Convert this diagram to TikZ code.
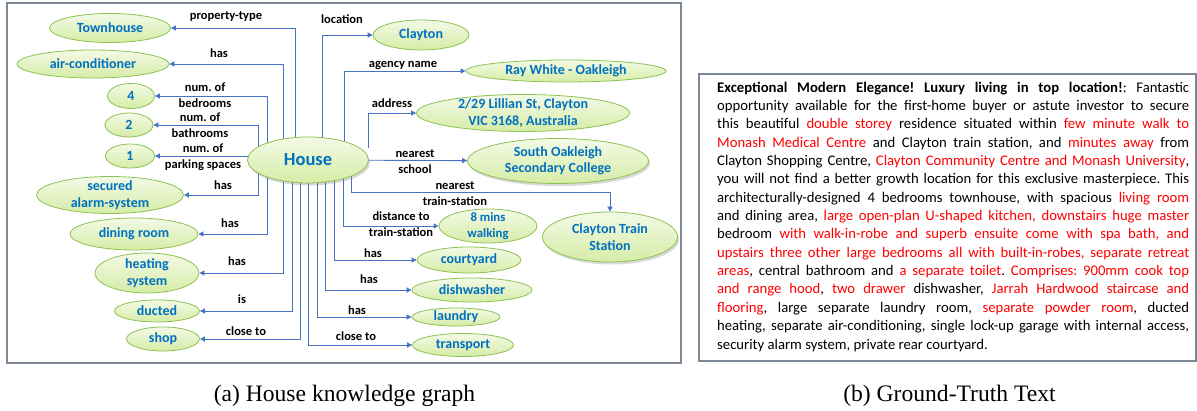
\documentclass[tikz,border=0pt]{standalone}
\usepackage{fontspec}
\setmainfont{Carlito}
\newfontfamily\capfont{Liberation Serif}
\usetikzlibrary{shapes.geometric,arrows.meta,shadows,backgrounds}

\definecolor{entblue}{RGB}{0,112,192}
\definecolor{linkblue}{RGB}{68,114,196}
\definecolor{entline}{RGB}{140,194,82}
\definecolor{enttop}{RGB}{243,250,230}
\definecolor{entbot}{RGB}{214,236,166}
\definecolor{redtxt}{RGB}{255,0,0}
\definecolor{framegray}{RGB}{125,135,150}

\tikzset{
  ent/.style={ellipse, draw=entline, line width=0.8pt, top color=enttop, bottom color=entbot,
    inner xsep=0pt, inner ysep=-4pt, align=center, text=entblue,
    font=\fontsize{14}{16.5}\selectfont\bfseries},
  bigent/.style={ent, drop shadow={shadow xshift=1.5pt, shadow yshift=-2.5pt, opacity=0.3}},
  wh/.style 2 args={minimum width=#1pt, minimum height=#2pt},
  rel/.style={inner sep=0pt, align=center, font=\fontsize{12.5}{16}\selectfont\bfseries},
  link/.style={draw=linkblue, line width=0.9pt, -{Triangle[length=5pt,width=5pt]}},
  box/.style={draw=framegray, line width=1.1pt}
}
\newcommand{\rd}[1]{\textcolor{redtxt}{#1}}

\begin{document}
\frenchspacing
\begin{tikzpicture}[x=1pt, y=-1pt]
    \useasboundingbox (0,0) rectangle (1197,411);

    % frames
    \draw[box] (7,3) rectangle (681,363);
    \draw[box] (699,74) rectangle (1196,361);

    % knowledge graph
    \node[bigent, wh={121}{46}, font=\fontsize{18.5}{20}\selectfont\bfseries] (house) at (308,160) {House};

    \node[ent, wh={121}{29}] (town) at (110,28) {Townhouse};
    \node[ent, wh={152}{28}] (aircon) at (93,64) {air-conditioner};
    \node[ent, wh={47}{25}] (four) at (131,96) {4};
    \node[ent, wh={48}{24}] (two) at (129,125) {2};
    \node[ent, wh={49}{24}] (one) at (130,156) {1};
    \node[ent, wh={147}{37}] (alarm) at (110,195) {secured\\alarm-system};
    \node[ent, wh={128}{32}] (dining) at (134,234) {dining room};
    \node[ent, wh={104}{40}] (heating) at (147,273) {heating\\system};
    \node[ent, wh={85}{22}] (ducted) at (157,311) {ducted};
    \node[ent, wh={73}{24}] (shop) at (163,339) {shop};

    \node[ent, wh={96}{30}] (clayton) at (421,35) {Clayton};
    \node[ent, wh={200}{22}] (raywhite) at (566,71) {Ray White - Oakleigh};
    \node[ent, wh={213}{37}] (addr) at (523,113) {2/29 Lillian St, Clayton\\VIC 3168, Australia};
    \node[bigent, wh={181}{45}] (school) at (558,161) {South Oakleigh\\Secondary College};
    \node[bigent, wh={135}{50}] (station) at (610,237) {Clayton Train\\Station};
    \node[ent, wh={98}{34}, font=\fontsize{12.8}{16}\selectfont\bfseries] (walk) at (488,226) {8 mins\\walking};
    \node[ent, wh={104}{26}] (court) at (469,260) {courtyard};
    \node[ent, wh={120}{24}] (dish) at (472,290) {dishwasher};
    \node[ent, wh={88}{18}] (laundry) at (456,317) {laundry};
    \node[ent, wh={101}{23}] (transport) at (463,345) {transport};

    \begin{scope}[on background layer]
        \draw[link] ([xshift=-13pt]house.center) |- (town);
        \draw[link] ([xshift=-25pt]house.center) |- (aircon);
        \draw[link] ([xshift=-41pt]house.center) |- (four);
        \draw[link] ([xshift=-50pt]house.center) |- (two);
        \draw[link] (one -| house.center) -- (one);
        \draw[link] ([xshift=-50pt]house.center) |- (alarm);
        \draw[link] ([xshift=-41pt]house.center) |- (dining);
        \draw[link] ([xshift=-25pt]house.center) |- (heating);
        \draw[link] ([xshift=-16pt]house.center) |- (ducted);
        \draw[link] ([xshift=-8pt]house.center) |- (shop);

        \draw[link] ([xshift=14pt]house.center) |- (clayton);
        \draw[link] ([xshift=36pt]house.center) |- (raywhite);
        \draw[link] ([yshift=12pt]house.east) |- (addr);
        \draw[link] (house) -- (school);
        \draw[link] ([xshift=43pt]house.center) |- ([yshift=19pt]station.north) -- (station.north);
        \draw[link] ([xshift=35pt]house.center) |- (walk);
        \draw[link] ([xshift=26pt]house.center) |- (court);
        \draw[link] ([xshift=17pt]house.center) |- (dish);
        \draw[link] ([xshift=9pt]house.center) |- (laundry);
        \draw[link] (house.center) |- (transport);
    \end{scope}

    % relation labels
    \node[rel] (l-town) at (226,17) {property-type};
    \node[rel] (l-aircon) at (219,53) {has};
    \node[rel] (l-four) at (205,95) {num. of\\bedrooms};
    \node[rel] (l-two) at (200,125) {num. of\\bathrooms};
    \node[rel] (l-one) at (203,157) {num. of\\parking spaces};
    \node[rel] (l-alarm) at (223,185) {has};
    \node[rel] (l-dining) at (230,223) {has};
    \node[rel] (l-heating) at (237,261) {has};
    \node[rel] (l-ducted) at (242,299) {is};
    \node[rel] (l-shop) at (246,331) {close to};
    \node[rel] (l-clayton) at (342,19) {location};
    \node[rel] (l-raywhite) at (403,65) {agency name};
    \node[rel] (l-addr) at (392,103) {address};
    \node[rel] (l-school) at (415,162) {nearest\\school};
    \node[rel] (l-station) at (455,194) {nearest\\train-station};
    \node[rel] (l-walk) at (401,224) {distance to\\train-station};
    \node[rel] (l-court) at (373,253) {has};
    \node[rel] (l-dish) at (369,279) {has};
    \node[rel] (l-laundry) at (357,310) {has};
    \node[rel] (l-transport) at (356,336) {close to};

    % ground-truth text
    \node[anchor=north west, text width=472pt, align=justify, inner sep=0pt,
        font=\fontsize{14.7}{18.36}\selectfont] (gttext) at (717,81.5) {%
\textbf{Exceptional Modern Elegance! Luxury living in top location!}: Fantastic\linebreak
opportunity available for the first-home buyer or astute investor to secure\linebreak
this beautiful \rd{double storey} residence situated within \rd{few minute walk to}\linebreak
\rd{Monash Medical Centre} and Clayton train station, and \rd{minutes away} from\linebreak
Clayton Shopping Centre, \rd{Clayton Community Centre and Monash University},\linebreak
you will not find a better growth location for this exclusive masterpiece. This\linebreak
architecturally-designed 4 bedrooms townhouse, with spacious \rd{living room}\linebreak
and dining area, \rd{large open-plan U-shaped kitchen, downstairs huge master}\linebreak
bedroom \rd{with walk-in-robe and superb ensuite come with spa bath, and}\linebreak
\rd{upstairs three other large bedrooms all with built-in-robes, separate retreat}\linebreak
\rd{areas}, central bathroom and \rd{a separate toilet}. \rd{Comprises: 900mm cook top}\linebreak
\rd{and range hood}, \rd{two drawer} dishwasher, \rd{Jarrah Hardwood staircase and}\linebreak
\rd{flooring}, large separate laundry room, \rd{separate powder room}, ducted\linebreak
heating, separate air-conditioning, single lock-up garage with internal access,\linebreak
security alarm system, private rear courtyard.};

    % captions
    \node[anchor=base, font=\capfont\fontsize{23.6}{28}\selectfont] (cap-a) at (344.5,402) {(a) House knowledge graph};
    \node[anchor=base, font=\capfont\fontsize{23.6}{28}\selectfont] (cap-b) at (949.5,402) {(b) Ground-Truth Text};

\end{tikzpicture}
\end{document}
